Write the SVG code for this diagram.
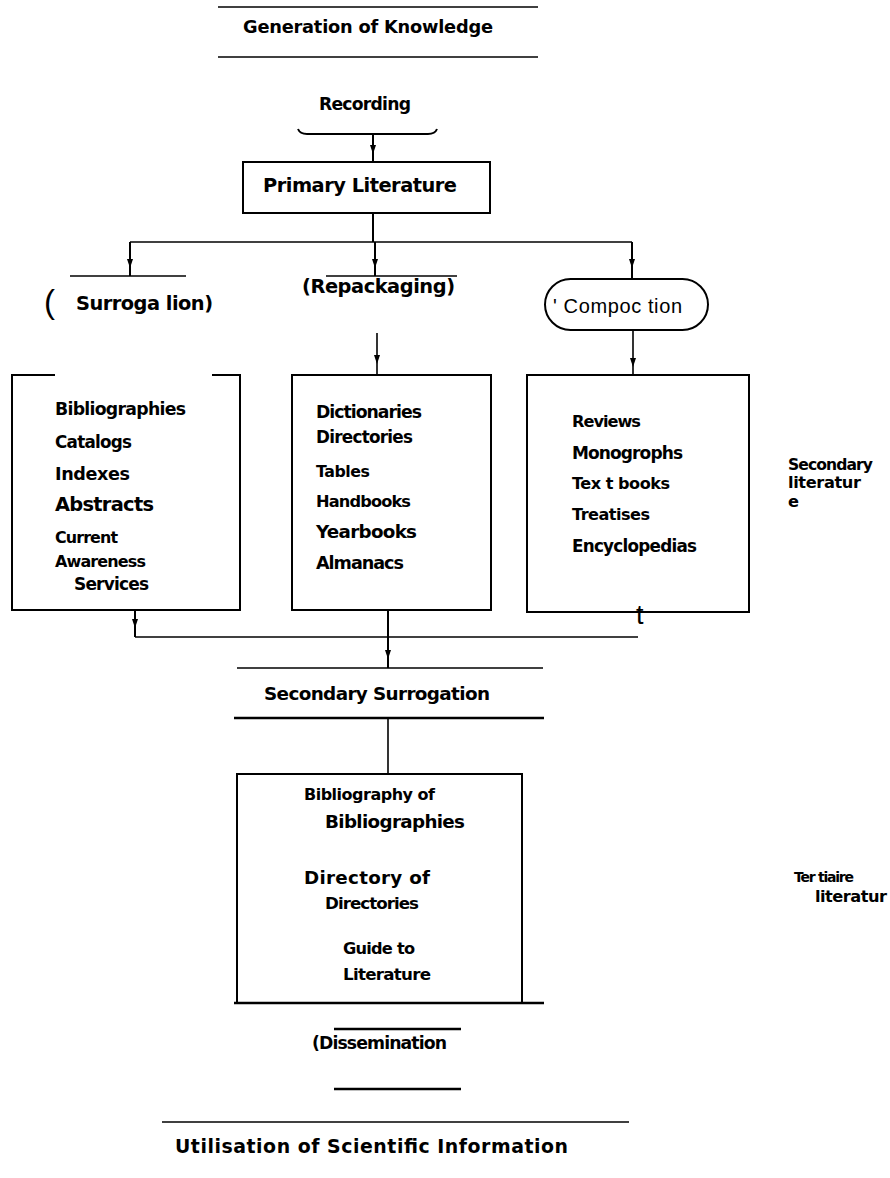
<svg xmlns="http://www.w3.org/2000/svg" xmlns:xlink="http://www.w3.org/1999/xlink" width="890" height="1178" viewBox="0 0 890 1178">
<style>
.b{font-family:"DejaVu Sans",Verdana,sans-serif;font-weight:bold;fill:#000}
.n{font-family:"Liberation Sans",Arial,sans-serif;font-weight:normal;fill:#000}
.ln{stroke:#000;stroke-width:1.6;fill:none}
.tk{stroke:#000;stroke-width:2.6;fill:none}
.bx{stroke:#000;stroke-width:2;fill:none}
</style>
<defs>
<path id="ah" d="M-3,-9 L3,-9 L0,0 Z" fill="#000"/>
</defs>
<rect width="890" height="1178" fill="#fff"/>

<g id="generation">
<line class="ln" x1="218" y1="7" x2="538" y2="7"/>
<text class="b" x="243" y="33" font-size="17.8" textLength="250">Generation of Knowledge</text>
<line class="ln" x1="218" y1="57" x2="538" y2="57"/>
</g>

<g id="recording">
<text class="b" x="319" y="110" font-size="17.2" textLength="92">Recording</text>
<path class="bx" d="M298,129 Q300,134 307,134 L428,134 Q435,134 437,129"/>
</g>

<g id="primary">
<rect class="bx" x="243" y="162" width="247" height="51"/>
<text class="b" x="263" y="192" font-size="19.4" textLength="194">Primary Literature</text>
</g>

<g id="surrogation">
<line class="ln" x1="70" y1="276" x2="186" y2="276"/>
<text class="n" x="44" y="313" font-size="33">(</text>
<text class="b" x="76" y="310" font-size="19.4" textLength="137">Surroga lion)</text>
</g>

<g id="repackaging">
<line class="ln" x1="326" y1="276" x2="457" y2="276"/>
<text class="b" x="302" y="293" font-size="19.4" textLength="153">(Repackaging)</text>
</g>

<g id="compaction">
<rect class="bx" x="545" y="279" width="163" height="51" rx="25.5" ry="25.5"/>
<text class="n" x="553" y="313" font-size="20" textLength="129">' Compoc tion</text>
</g>

<g id="box-surrogation">
<path class="bx" d="M55,375 L12,375 L12,610 L240,610 L240,375 L212,375"/>
<text class="b" x="55" y="415" font-size="17.3" textLength="131">Bibliographies</text>
<text class="b" x="55" y="448" font-size="16.8" textLength="77">Catalogs</text>
<text class="b" x="55" y="480" font-size="17.6" textLength="75">Indexes</text>
<text class="b" x="55" y="511" font-size="19.4" textLength="99">Abstracts</text>
<text class="b" x="55" y="543" font-size="15.9" textLength="63">Current</text>
<text class="b" x="55" y="567" font-size="16" textLength="91">Awareness</text>
<text class="b" x="74" y="590" font-size="17" textLength="75">Services</text>
</g>

<g id="box-repackaging">
<rect class="bx" x="292" y="375" width="199" height="235"/>
<text class="b" x="316" y="418" font-size="17.3" textLength="106">Dictionaries</text>
<text class="b" x="316" y="443" font-size="16.8" textLength="97">Directories</text>
<text class="b" x="316" y="477" font-size="15.8" textLength="54">Tables</text>
<text class="b" x="316" y="507" font-size="16.2" textLength="95">Handbooks</text>
<text class="b" x="316" y="538" font-size="18.3" textLength="101">Yearbooks</text>
<text class="b" x="316" y="569" font-size="17.6" textLength="88">Almanacs</text>
</g>

<g id="box-compaction">
<rect class="bx" x="527" y="375" width="222" height="237"/>
<text class="b" x="572" y="427" font-size="16.2" textLength="69">Reviews</text>
<text class="b" x="572" y="459" font-size="17" textLength="111">Monogrophs</text>
<text class="b" x="572" y="489" font-size="16.1" textLength="98">Tex t books</text>
<text class="b" x="572" y="520" font-size="16.1" textLength="78">Treatises</text>
<text class="b" x="572" y="552" font-size="16.8" textLength="125">Encyclopedias</text>
</g>

<g id="secondary-label">
<text class="b" x="788" y="470" font-size="15.6" textLength="85">Secondary</text>
<text class="b" x="788" y="488" font-size="16.2" textLength="73">literatur</text>
<text class="b" x="788" y="507" font-size="16.2">e</text>
</g>

<g id="t-mark">
<text class="n" x="636" y="624" font-size="27">t</text>
</g>

<g id="secondary-surrogation">
<line class="ln" x1="237" y1="668" x2="543" y2="668"/>
<text class="b" x="264" y="700" font-size="18.4" textLength="226">Secondary Surrogation</text>
<line class="tk" x1="234" y1="718" x2="544" y2="718"/>
</g>

<g id="box-tertiary">
<path class="bx" d="M237,1003 L237,774 L522,774 L522,1003"/>
<line class="tk" x1="234" y1="1003" x2="544" y2="1003"/>
<text class="b" x="304" y="800" font-size="16" textLength="131">Bibliography of</text>
<text class="b" x="325" y="828" font-size="18.3" textLength="140">Bibliographies</text>
<text class="b" x="304" y="884" font-size="18.3" textLength="126">Directory  of</text>
<text class="b" x="325" y="909" font-size="16.7" textLength="94">Directories</text>
<text class="b" x="343" y="954" font-size="16.2" textLength="72">Guide to</text>
<text class="b" x="343" y="980" font-size="16.7" textLength="88">Literature</text>
</g>

<g id="tertiary-label">
<text class="b" x="794" y="882" font-size="14" textLength="60">Ter tiaire</text>
<text class="b" x="815" y="902" font-size="16.2" textLength="72">literatur</text>
</g>

<g id="dissemination">
<line class="tk" x1="334" y1="1029" x2="461" y2="1029"/>
<text class="b" x="312" y="1049" font-size="17.3" textLength="135">(Dissemination</text>
<line class="tk" x1="334" y1="1089" x2="461" y2="1089"/>
</g>

<g id="utilisation">
<line class="ln" x1="162" y1="1122" x2="629" y2="1122"/>
<text class="b" x="175" y="1153" font-size="18.9" textLength="393">Utilisation of Scientific Information</text>
</g>

<g id="connectors">
<line class="bx" x1="373" y1="134" x2="373" y2="162"/>
<use xlink:href="#ah" x="373" y="154"/>
<line class="bx" x1="373" y1="213" x2="373" y2="242"/>
<line class="ln" x1="130" y1="242" x2="632" y2="242"/>
<line class="bx" x1="130" y1="242" x2="130" y2="276"/>
<use xlink:href="#ah" x="130" y="268"/>
<line class="bx" x1="375" y1="242" x2="375" y2="276"/>
<use xlink:href="#ah" x="375" y="268"/>
<line class="bx" x1="632" y1="242" x2="632" y2="279"/>
<use xlink:href="#ah" x="632" y="268"/>
<line class="ln" x1="377" y1="333" x2="377" y2="375"/>
<use xlink:href="#ah" x="377" y="364"/>
<line class="ln" x1="633" y1="330" x2="633" y2="375"/>
<use xlink:href="#ah" x="633" y="367"/>
<line class="bx" x1="135" y1="610" x2="135" y2="637"/>
<use xlink:href="#ah" x="135" y="628"/>
<line class="ln" x1="135" y1="637" x2="638" y2="637"/>
<line class="bx" x1="388" y1="610" x2="388" y2="668"/>
<use xlink:href="#ah" x="388" y="659"/>
<line class="ln" x1="388" y1="718" x2="388" y2="774"/>
</g>
</svg>
